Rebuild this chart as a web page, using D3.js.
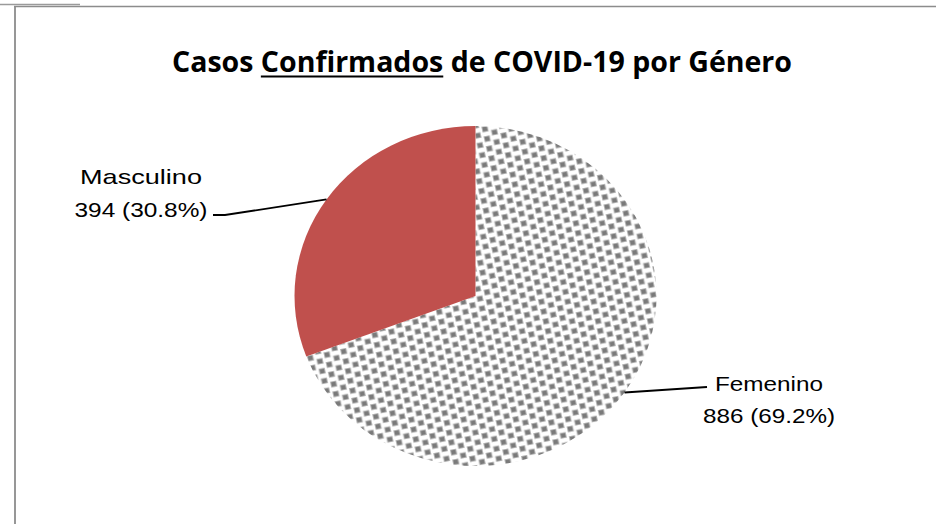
<!DOCTYPE html>
<html>
<head>
<meta charset="utf-8">
<script src="https://cdn.jsdelivr.net/npm/d3@7"></script>
<style>
  html, body { margin: 0; padding: 0; background: #fff; }
  svg { display: block; }
</style>
</head>
<body>
<svg id="chart" width="936" height="524"></svg>
<script>
// ---- data ----
const categories = ["Femenino", "Masculino"];
const values = [886, 394];
const colors = ["pattern", "#C0504D"];
const titleParts = ["Casos ", "Confirmados", " de COVID-19 por Género"];

// ---- layout ----
const W = 936, H = 524;
const cx = 475.5, cy = 296, rx = 181, ry = 170;

const svg = d3.select("#chart");

// frame
svg.append("line").attr("x1", 0).attr("x2", 80).attr("y1", 4.5).attr("y2", 4.5)
  .attr("stroke", "#9a9a9a").attr("stroke-width", 1.5);
svg.append("line").attr("x1", 14).attr("x2", W).attr("y1", 6.5).attr("y2", 6.5)
  .attr("stroke", "#8c8c8c").attr("stroke-width", 1.6);
svg.append("line").attr("x1", 15).attr("x2", 15).attr("y1", 6).attr("y2", H)
  .attr("stroke", "#8c8c8c").attr("stroke-width", 1.8);

// pattern
const defs = svg.append("defs");
const pat = defs.append("pattern").attr("id", "dots")
  .attr("patternUnits", "userSpaceOnUse").attr("width", 16).attr("height", 10)
  .attr("patternTransform", "rotate(-12)");
pat.append("rect").attr("width", 16).attr("height", 10).attr("fill", "#fff");
[[1, 1], [9, 6]].forEach(([x, y]) => {
  pat.append("rect").attr("x", x).attr("y", y).attr("width", 5).attr("height", 5)
    .attr("fill", "#7a7a7a").attr("stroke", "#b0b0b0").attr("stroke-width", 0.8);
});
// wrap-around piece for the second square
pat.append("rect").attr("x", 9).attr("y", -4).attr("width", 5).attr("height", 5)
  .attr("fill", "#7a7a7a").attr("stroke", "#b0b0b0").attr("stroke-width", 0.8);

// title
const title = svg.append("text")
  .attr("x", 172).attr("y", 72)
  .attr("font-family", "'Open Sans', 'Liberation Sans', sans-serif")
  .attr("font-weight", "bold").attr("font-size", 29)
  .attr("fill", "#000")
  .attr("textLength", 620).attr("lengthAdjust", "spacingAndGlyphs");
titleParts.forEach(t => title.append("tspan").text(t));
// underline for "Confirmados"
{
  const node = title.node();
  const s = titleParts[0].length, e = s + titleParts[1].length - 1;
  const x0 = node.getStartPositionOfChar(s).x;
  const x1 = node.getEndPositionOfChar(e).x;
  svg.append("line").attr("x1", x0).attr("x2", x1).attr("y1", 76.5).attr("y2", 76.5)
    .attr("stroke", "#000").attr("stroke-width", 2);
}

// pie
const total = d3.sum(values);
const pie = d3.pie().sort(null).value(d => d.v);
const arcs = pie(categories.map((c, i) => ({ c, v: values[i], i })));
const arc = d3.arc().innerRadius(0).outerRadius(ry);

const g = svg.append("g")
  .attr("transform", `translate(${cx},${cy}) scale(${rx / ry},1)`);
g.selectAll("path").data(arcs).join("path")
  .attr("d", arc)
  .attr("fill", d => colors[d.data.i] === "pattern" ? "url(#dots)" : colors[d.data.i]);

// labels
const fmtPct = v => (v / total * 100).toFixed(1) + "%";
const labelPos = {
  "Masculino": { x: 141, y1: 184, y2: 217, lx: 213, w1: 122, w2: 133 },
  "Femenino": { x: 769, y1: 391, y2: 423, lx: 707, w1: 108, w2: 132 }
};
arcs.forEach(d => {
  const p = labelPos[d.data.c];
  const a = (d.startAngle + d.endAngle) / 2;
  const ex = cx + Math.sin(a) * rx, ey = cy - Math.cos(a) * ry;
  const lab = svg.append("g").attr("font-family", "'Liberation Sans', Arial, sans-serif")
    .attr("font-size", 21).attr("fill", "#000").attr("text-anchor", "middle");
  lab.append("text").attr("x", p.x).attr("y", p.y1).text(d.data.c)
    .attr("textLength", p.w1).attr("lengthAdjust", "spacingAndGlyphs");
  lab.append("text").attr("x", p.x).attr("y", p.y2)
    .text(`${d.data.v} (${fmtPct(d.data.v)})`)
    .attr("textLength", p.w2).attr("lengthAdjust", "spacingAndGlyphs");
  // leader line
  let pts;
  if (p.lx < cx) pts = [[p.lx, 215], [p.lx + 12, 215], [ex, ey]];
  else pts = [[ex, ey], [p.lx, 387]];
  svg.append("path").attr("d", d3.line()(pts))
    .attr("fill", "none").attr("stroke", "#000").attr("stroke-width", 1.8);
});
</script>
</body>
</html>
